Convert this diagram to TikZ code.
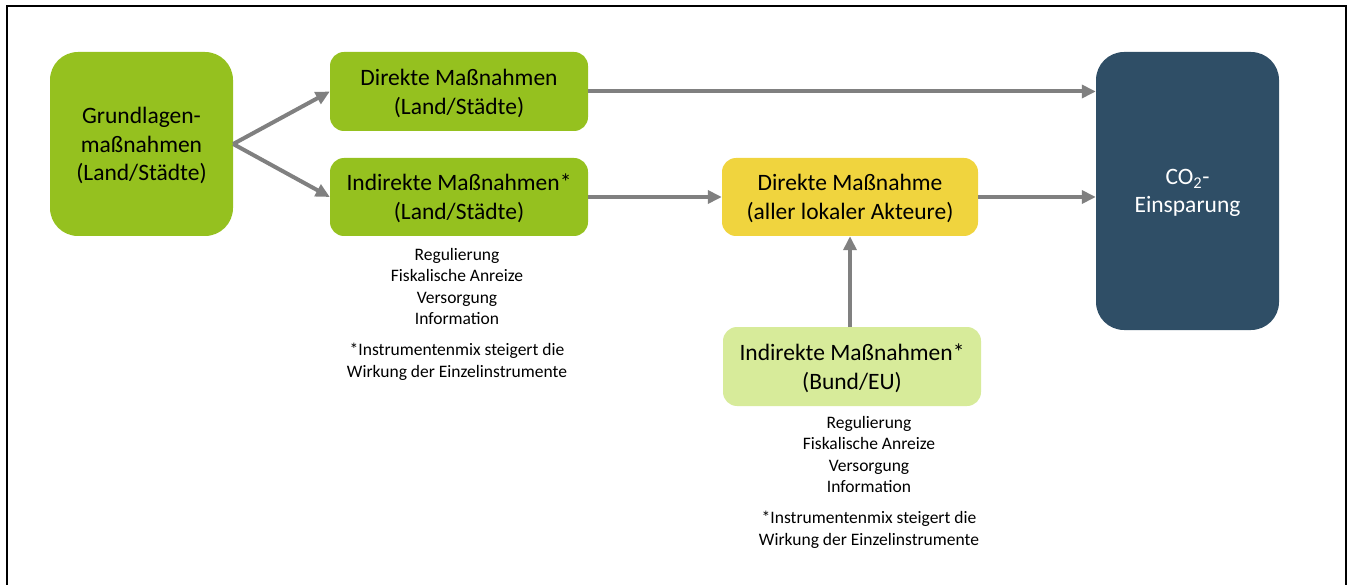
\documentclass[tikz,border=0pt]{standalone}
\usepackage{fontspec}
\setmainfont{Carlito}
\usetikzlibrary{arrows.meta}
\definecolor{grn}{RGB}{149,193,31}
\definecolor{ylw}{RGB}{240,212,62}
\definecolor{lgrn}{RGB}{215,235,154}
\definecolor{dblue}{RGB}{47,78,102}
\definecolor{arr}{RGB}{128,128,128}
\begin{document}
\begin{tikzpicture}[x=1pt,y=-1pt,
  box/.style={rounded corners=14pt, minimum width=258pt, minimum height=79pt, align=center, inner sep=0pt, text depth=0pt, font=\fontsize{23.5}{28.7}\selectfont},
  bigbox/.style={rounded corners=28pt, align=center, inner sep=0pt, text depth=-3pt, font=\fontsize{23.5}{28.7}\selectfont},
  small/.style={align=center, inner sep=0pt, font=\fontsize{17.5}{21.6}\selectfont},
  conn/.style={draw=arr, line width=4pt, -{Triangle[length=14pt,width=13pt]}}]
\path[use as bounding box] (0,0) rectangle (1349,585);
\draw[line width=2pt] (6.5,585) -- (6.5,6.5) -- (1346,6.5) -- (1346,585);

\node[bigbox, fill=grn, minimum width=183pt, minimum height=184pt] (g) at (141.5,144) {Grundlagen-\\maßnahmen\\(Land/Städte)};
\node[box, fill=grn] (d1) at (459,91.5) {Direkte Maßnahmen\\(Land/Städte)};
\node[box, fill=grn, minimum height=78pt] (i1) at (459,197) {Indirekte Maßnahmen*\\(Land/Städte)};
\node[box, fill=ylw, minimum width=256pt, minimum height=78pt] (y) at (850,197) {Direkte Maßnahme\\(aller lokaler Akteure)};
\node[box, fill=lgrn] (b) at (852,366.5) {Indirekte Maßnahmen*\\(Bund/EU)};
\node[bigbox, fill=dblue, text=white, minimum width=183pt, minimum height=278pt] (c) at (1187.5,191) {CO\textsubscript{2}-\\Einsparung};

\node[small] (l1) at (457,286.5) {Regulierung\\Fiskalische Anreize\\Versorgung\\Information};
\node[small] (f1) at (457,361.5) {*Instrumentenmix steigert die\\Wirkung der Einzelinstrumente};
\node[small] (l2) at (869,454.5) {Regulierung\\Fiskalische Anreize\\Versorgung\\Information};
\node[small] (f2) at (869,529.5) {*Instrumentenmix steigert die\\Wirkung der Einzelinstrumente};

\draw[conn] (g.east) -- (d1.west);
\draw[conn] (g.east) -- (i1.west);
\draw[conn] (d1.east) -- (c.west |- d1.east);
\draw[conn] (i1.east) -- (y.west);
\draw[conn] (y.east) -- (c.west |- y.east);
\draw[conn] (b.north -| y.south) -- (y.south);
\end{tikzpicture}
\end{document}
